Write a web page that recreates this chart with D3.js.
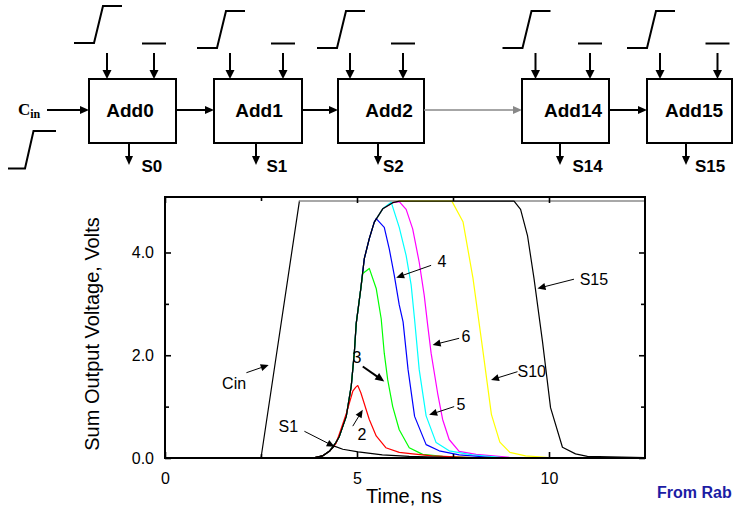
<!DOCTYPE html>
<html><head><meta charset="utf-8">
<script src="https://cdn.jsdelivr.net/npm/d3@7"></script>
<style>body{margin:0;background:#fff;} svg{display:block;}</style>
</head><body>
<script>
// ---------------- data ----------------
const xTicksMajor = [0, 5, 10];
const xTicksMinor = [2.5, 7.5];
const yTicksMajor = [0, 2, 4];
const yTicksMinor = [1, 3];

const cin = [[0,0],[2.5,0],[3.5,5.0],[12.5,5.0]];
const s1  = [[0,0],[3.85,0],[4.1,0.04],[4.28,0.13],[4.41,0.23],[4.63,0.17],[5.03,0.12],[5.66,0.06],[6.36,0.03],[7.5,0.01],[12.5,0]];
const s2  = [[0,0],[3.85,0],[4.1,0.04],[4.28,0.13],[4.45,0.28],[4.54,0.47],[4.72,0.86],[4.89,1.3],[4.97,1.38],[5.02,1.41],[5.1,1.27],[5.32,0.75],[5.5,0.43],[5.75,0.2],[6.1,0.11],[6.45,0.08],[6.96,0.04],[8,0.01],[12.5,0]];
const s3  = [[0,0],[3.85,0],[4.1,0.04],[4.28,0.13],[4.45,0.3],[4.54,0.42],[4.72,0.81],[4.85,1.4],[4.93,2.05],[4.98,2.62],[5.1,3.3],[5.15,3.59],[5.32,3.69],[5.5,3.3],[5.63,2.71],[5.71,2.04],[5.8,1.52],[5.93,1.0],[6.1,0.55],[6.36,0.2],[6.71,0.07],[7.23,0.03],[8,0.01],[12.5,0]];
const s4  = [[0,0],[3.85,0],[4.1,0.04],[4.28,0.13],[4.45,0.3],[4.54,0.42],[4.72,0.81],[4.85,1.4],[4.93,2.05],[4.98,2.62],[5.1,3.3],[5.19,3.88],[5.32,4.27],[5.45,4.59],[5.5,4.66],[5.71,4.49],[5.84,4.07],[5.97,3.56],[6.1,2.98],[6.2,2.65],[6.33,1.72],[6.5,0.81],[6.8,0.26],[7.14,0.14],[7.66,0.06],[8.5,0.01],[12.5,0]];
const s5  = [[0,0],[3.85,0],[4.1,0.04],[4.28,0.13],[4.45,0.3],[4.54,0.42],[4.72,0.81],[4.85,1.4],[4.93,2.05],[4.98,2.62],[5.1,3.3],[5.19,3.88],[5.32,4.27],[5.45,4.59],[5.67,4.85],[5.89,4.98],[6.1,4.49],[6.28,3.94],[6.41,3.37],[6.5,2.69],[6.62,1.72],[6.8,0.82],[7.06,0.3],[7.4,0.14],[8.0,0.06],[8.8,0.01],[12.5,0]];
const s6  = [[0,0],[3.85,0],[4.1,0.04],[4.28,0.13],[4.45,0.3],[4.54,0.42],[4.72,0.81],[4.85,1.4],[4.93,2.05],[4.98,2.62],[5.1,3.3],[5.19,3.88],[5.32,4.27],[5.45,4.59],[5.67,4.85],[5.93,4.97],[6.1,4.99],[6.28,4.84],[6.45,4.46],[6.62,3.81],[6.75,3.17],[6.84,2.59],[6.93,2.04],[7.1,1.26],[7.23,0.75],[7.4,0.36],[7.66,0.13],[8.1,0.07],[9,0.01],[12.5,0]];
const s10 = [[0,0],[3.85,0],[4.1,0.04],[4.28,0.13],[4.45,0.3],[4.54,0.42],[4.72,0.81],[4.85,1.4],[4.93,2.05],[4.98,2.62],[5.1,3.3],[5.19,3.88],[5.32,4.27],[5.45,4.59],[5.67,4.85],[5.93,4.97],[6.1,5.0],[7.47,5.0],[7.76,4.6],[8.02,3.5],[8.28,2.08],[8.5,0.85],[8.72,0.31],[8.98,0.11],[9.39,0.04],[10,0.01],[12.5,0]];
const s15 = [[0,0],[3.85,0],[4.1,0.04],[4.28,0.13],[4.45,0.3],[4.54,0.42],[4.72,0.81],[4.85,1.4],[4.93,2.05],[4.98,2.62],[5.1,3.3],[5.19,3.88],[5.32,4.27],[5.45,4.59],[5.67,4.85],[5.93,4.97],[6.1,5.0],[9.09,5.0],[9.26,4.84],[9.44,4.33],[9.61,3.49],[9.83,2.27],[10.04,0.98],[10.35,0.21],[10.69,0.08],[11,0.03],[12.5,0.01]];

const seriesNames  = ["S10","6","5","4","3","2","S15","S1"];
const seriesData   = [s10, s6, s5, s4, s3, s2, s15, s1];
const seriesColors = ["#ffff00","#ff00ff","#00ffff","#0000ff","#00ff00","#ff0000","#000000","#000000"];

// annotations: label, label position [t,v], arrow start [t,v], arrow tip [t,v]
const annLabels = ["Cin","S1","2","3","4","5","6","S10","S15"];
const annText   = [[1.80,1.35],[3.21,0.51],[5.13,0.36],[5.0,1.85],[7.21,3.71],[7.71,0.94],[7.84,2.26],[9.55,1.58],[11.17,3.37]];
const annFrom   = [[2.12,1.66],[3.63,0.52],[4.89,0.62],[5.15,1.78],[6.93,3.75],[7.53,1.0],[7.66,2.33],[9.18,1.68],[10.65,3.48]];
const annTo     = [[2.70,1.81],[4.42,0.22],[5.15,0.94],[5.71,1.49],[6.02,3.51],[6.88,0.84],[6.97,2.2],[8.49,1.52],[9.70,3.30]];

// schematic
const blockNames  = ["Add0","Add1","Add2","Add14","Add15"];
const outputNames = ["S0","S1","S2","S14","S15"];

// ---------------- drawing ----------------
const W = 733, H = 518;
const svg = d3.select("body").append("svg").attr("width", W).attr("height", H)
  .style("font-family", "'Liberation Sans', Arial, sans-serif");

function arrow(g, x1, y1, x2, y2, o) {
  o = Object.assign({head: 8, hw: 3.5, sw: 1, color: "#000"}, o || {});
  const a = Math.atan2(y2 - y1, x2 - x1);
  const bx = x2 - o.head * Math.cos(a), by = y2 - o.head * Math.sin(a);
  const s = Math.sin(a), c = Math.cos(a);
  g.append("line").attr("x1", x1).attr("y1", y1).attr("x2", bx + c*0.5).attr("y2", by + s*0.5)
    .attr("stroke", o.color).attr("stroke-width", o.sw);
  g.append("path").attr("d", `M${x2},${y2}L${bx + o.hw*s},${by - o.hw*c}L${bx - o.hw*s},${by + o.hw*c}Z`)
    .attr("fill", o.color);
}

// ---- schematic ----
const dg = svg.append("g");
const boxLeft  = [89, 214, 338, 522, 647];
const boxW     = [87, 88, 86, 87, 85];
const labelDx  = [41, 45, 51, 51, 47];
const stepDy   = [-5, 0, 0, 0, 0];
const inA      = [18, 16, 12, 13.5, 13];
const inB      = [65, 69, 65, 68, 70.5];
const outDx    = [40, 42, 40, 38, 39];
const outLblDx = [12.5, 10.5, 5, 12.5, 9];
const boxTop = 79, boxH = 64, midY = 110;

blockNames.forEach((name, i) => {
  const L = boxLeft[i];
  dg.append("rect").attr("x", L).attr("y", boxTop).attr("width", boxW[i]).attr("height", boxH)
    .attr("fill", "none").attr("stroke", "#000").attr("stroke-width", 2);
  dg.append("text").attr("x", L + labelDx[i]).attr("y", 117).attr("text-anchor", "middle")
    .attr("font-weight", "bold").attr("font-size", 19).text(name);
  const ax = L + inA[i], bx = L + inB[i];
  arrow(dg, ax, 53, ax, boxTop, {head: 9, hw: 4.5, sw: 2});
  arrow(dg, bx, 53, bx, boxTop, {head: 9, hw: 4.5, sw: 2});
  const ly = 48 + stepDy[i], hy = 11 + stepDy[i];
  dg.append("path").attr("d", `M${ax-33},${ly}L${ax-13},${ly}L${ax-4},${hy}L${ax+15},${hy}`)
    .attr("fill", "none").attr("stroke", "#000").attr("stroke-width", 2);
  dg.append("line").attr("x1", bx - 12).attr("x2", bx + 12).attr("y1", 43.5).attr("y2", 43.5)
    .attr("stroke", "#000").attr("stroke-width", 2);
  const ox = L + outDx[i];
  arrow(dg, ox, boxTop + boxH, ox, 165, {head: 9, hw: 4, sw: 2});
  dg.append("text").attr("x", ox + outLblDx[i]).attr("y", 172).attr("font-weight", "bold")
    .attr("font-size", 17).text(outputNames[i]);
  if (i < blockNames.length - 1) {
    arrow(dg, L + boxW[i], midY, boxLeft[i+1], midY,
      {head: 9, hw: 4, sw: i === 2 ? 1.5 : 2, color: i === 2 ? "#888" : "#000"});
  }
});
// Cin input
arrow(dg, 47, midY, boxLeft[0], midY, {head: 9, hw: 4, sw: 2});
const ct = dg.append("text").attr("x", 18).attr("y", 115).attr("font-family", "'Liberation Serif', 'Times New Roman', serif")
  .attr("font-weight", "bold").attr("font-size", 17);
ct.append("tspan").text("C");
ct.append("tspan").attr("font-size", 12).attr("dy", 3).text("in");
dg.append("path").attr("d", "M8,168.5L25,168.5L33.5,131L56,131").attr("fill", "none").attr("stroke", "#000").attr("stroke-width", 2);

// ---- chart ----
const x = d3.scaleLinear().domain([0, 12.5]).range([165, 645]);
const y = d3.scaleLinear().domain([0, 5.08]).range([458, 197]);

const pg = svg.append("g");
const line = d3.line().x(d => x(d[0])).y(d => y(d[1]));

pg.append("path").datum(cin).attr("d", line).attr("fill", "none").attr("stroke", "#000").attr("stroke-width", 1.2);
pg.append("path").datum(cin.filter(d => d[1] === 5.0)).attr("d", line).attr("fill", "none")
  .attr("stroke", "#a8a8a8").attr("stroke-width", 2);

seriesData.forEach((d, i) => {
  pg.append("path").datum(d).attr("d", line).attr("fill", "none")
    .attr("stroke", seriesColors[i]).attr("stroke-width", 1.2).attr("stroke-linejoin", "round");
});

pg.append("rect").attr("x", x(0)).attr("y", y(5.08)).attr("width", x(12.5) - x(0)).attr("height", y(0) - y(5.08))
  .attr("fill", "none").attr("stroke", "#000").attr("stroke-width", 2);

function styleAxis(g) {
  g.select(".domain").remove();
  g.selectAll(".tick line").attr("stroke", "#000").attr("stroke-width", 1.6);
  g.selectAll("text").attr("font-size", 16).attr("font-family", "'Liberation Sans', Arial, sans-serif").attr("fill", "#000");
}
pg.append("g").attr("transform", `translate(0,${y(0)})`)
  .call(d3.axisBottom(x).tickValues(xTicksMajor).tickSize(-6).tickPadding(15).tickFormat(d3.format("d"))).call(styleAxis);
pg.append("g").attr("transform", `translate(0,${y(0)})`)
  .call(d3.axisBottom(x).tickValues(xTicksMinor).tickSize(-4).tickFormat("")).call(styleAxis);
pg.append("g").attr("transform", `translate(0,${y(5.08)})`)
  .call(d3.axisTop(x).tickValues(xTicksMajor).tickSize(-6).tickFormat("")).call(styleAxis);
pg.append("g").attr("transform", `translate(0,${y(5.08)})`)
  .call(d3.axisTop(x).tickValues(xTicksMinor).tickSize(-4).tickFormat("")).call(styleAxis);
pg.append("g").attr("transform", `translate(${x(0)},0)`)
  .call(d3.axisLeft(y).tickValues(yTicksMajor).tickSize(-6).tickPadding(11).tickFormat(d3.format(".1f"))).call(styleAxis);
pg.append("g").attr("transform", `translate(${x(0)},0)`)
  .call(d3.axisLeft(y).tickValues(yTicksMinor).tickSize(-4).tickFormat("")).call(styleAxis);
pg.append("g").attr("transform", `translate(${x(12.5)},0)`)
  .call(d3.axisRight(y).tickValues(yTicksMajor).tickSize(-6).tickFormat("")).call(styleAxis);
pg.append("g").attr("transform", `translate(${x(12.5)},0)`)
  .call(d3.axisRight(y).tickValues(yTicksMinor).tickSize(-4).tickFormat("")).call(styleAxis);

pg.append("text").attr("transform", "translate(99,334) rotate(-90)").attr("text-anchor", "middle")
  .attr("font-size", 20).text("Sum Output Voltage, Volts");
pg.append("text").attr("x", 404).attr("y", 503).attr("text-anchor", "middle")
  .attr("font-size", 20).text("Time, ns");

annLabels.forEach((lbl, i) => {
  pg.append("text").attr("x", x(annText[i][0])).attr("y", y(annText[i][1])).attr("text-anchor", "middle")
    .attr("font-size", 16).text(lbl);
  const bold = lbl === "3";
  arrow(pg, x(annFrom[i][0]), y(annFrom[i][1]), x(annTo[i][0]), y(annTo[i][1]),
    {head: bold ? 9 : 8, hw: bold ? 4 : 3.5, sw: bold ? 2 : 1});
});

// credit (as visible in the reference)
svg.append("text").attr("x", 657).attr("y", 498).attr("font-weight", "bold").attr("font-size", 16)
  .attr("fill", "#1c1ca4").text("From Rab");
</script>
</body></html>
